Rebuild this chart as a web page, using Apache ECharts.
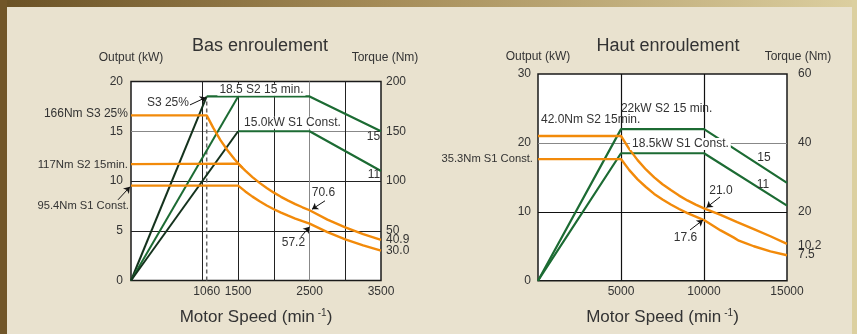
<!DOCTYPE html>
<html><head><meta charset="utf-8">
<script src="https://cdn.jsdelivr.net/npm/echarts@6/dist/echarts.min.js"></script>
<style>html,body{margin:0;padding:0;background:#e9e2cf}#c{width:857px;height:334px}</style>
</head><body><div id="c"></div>
<script>
// ---------- Bas enroulement (left) ----------
const basSpeedTicks = ['1060', '1500', '2500', '3500'];
const basOutputTicks = ['0', '5', '10', '15', '20'];
const basTorqueTicks = ['50', '100', '150', '200', '40.9'];
const basTorqueEndTick = '30.0';
const basS3Rise = [[0, 0], [1060, 18.5]];
const basS2Rise = [[0, 0], [1500, 18.5]];
const basS2Output = [[1060, 18.5], [2500, 18.5], [3500, 15]];
const basS1Rise = [[0, 0], [1500, 15]];
const basS1Output = [[1500, 15], [2500, 15], [3500, 11]];
const basS3Marker = [[1060, 0], [1060, 18.3]];
const basS3Torque = [[0, 166], [1060, 166], [1150, 153.6], [1250, 141.3], [1350, 130.9], [1450, 121.8], [1500, 117.8], [1560, 113.3]];
const basS2Torque = [[0, 117], [1500, 117.5], [1600, 110.4], [1700, 103.9], [1800, 98.1], [1900, 93.0], [2000, 88.3], [2100, 84.1], [2200, 80.3], [2300, 76.8], [2400, 73.6], [2500, 70.6], [2750, 61.2], [3000, 53.3], [3250, 46.6], [3500, 40.9]];
const basS1Torque = [[0, 95.4], [1500, 95.4], [1600, 89.5], [1700, 84.3], [1800, 79.6], [1900, 75.4], [2000, 71.6], [2100, 68.2], [2200, 65.1], [2300, 62.3], [2400, 59.7], [2500, 57.2], [2750, 48.6], [3000, 41.4], [3250, 35.3], [3500, 30.0]];
const basNotes = ['S3 25%', '18.5 S2 15 min.', '15.0kW S1 Const.', '15', '11', '70.6', '57.2', '166Nm S3 25%', '117Nm S2 15min.', '95.4Nm S1 Const.'];

// ---------- Haut enroulement (right) ----------
const hautSpeedTicks = ['5000', '10000', '15000'];
const hautOutputTicks = ['0', '10', '20', '30'];
const hautTorqueTicks = ['20', '40', '60', '10.2'];
const hautTorqueEndTick = '7.5';
const hautS2Output = [[0, 0], [5000, 22], [10000, 22], [15000, 14.2]];
const hautS1Output = [[0, 0], [5000, 18.5], [10000, 18.5], [15000, 10.9]];
const hautS2Torque = [[0, 42], [5000, 42], [5500, 38.2], [6000, 35.0], [6500, 32.3], [7000, 30.0], [7500, 28.0], [8000, 26.3], [8500, 24.7], [9000, 23.3], [9500, 22.1], [10000, 21.0], [11000, 19.1], [12000, 17.0], [13000, 15.0], [14000, 12.9], [15000, 10.7]];
const hautS1Torque = [[0, 35.3], [5000, 35.3], [5500, 32.1], [6000, 29.4], [6500, 27.2], [7000, 25.2], [7500, 23.6], [8000, 22.1], [8500, 20.8], [9000, 19.6], [9500, 18.6], [10000, 17.6], [11000, 14.6], [11500, 13.3], [11800, 12.5], [12100, 11.6], [12500, 10.9], [13000, 10.0], [14000, 8.5], [15000, 7.4]];
const hautNotes = ['22kW S2 15 min.', '42.0Nm S2 15min.', '18.5kW S1 Const.', '35.3Nm S1 Const.', '15', '11', '21.0', '17.6'];

// ---------- styling / building ----------
const FONT = '"Liberation Sans", Arial, Helvetica, sans-serif';
const TXT = '#333';
const ORANGE = '#f28a0a';
const GREEN = '#1c6b33';
const DARK = '#14321d';
const nums = a => a.map(Number);
const fmtFrom = a => (v => { const f = a.find(s => Math.abs(Number(s) - v) < 1e-9); return f === undefined ? '' : f; });

function line(data, color, width, xi, yi, extra) {
  return Object.assign({ type: 'line', data, xAxisIndex: xi, yAxisIndex: yi, symbol: 'none', silent: true,
    lineStyle: { color, width }, animation: false }, extra || {});
}
function note(text, x, y, align, bg, size, pad) {
  const l = { formatter: text, align: align || 'center', backgroundColor: bg ? '#fff' : 'transparent', padding: pad || (bg ? [0, 2] : 0) };
  if (size) l.fontSize = size;
  return { value: [x, y], label: l };
}
function notes(xi, yi, data, size) {
  return { type: 'scatter', xAxisIndex: xi, yAxisIndex: yi, symbolSize: 0.1, clip: false, silent: true, z: 8,
    itemStyle: { color: 'rgba(0,0,0,0)', opacity: 1 },
    label: { show: true, position: [0, 0], verticalAlign: 'middle', fontSize: size || 12, color: TXT, fontFamily: FONT, opacity: 1 },
    labelLayout: { hideOverlap: false },
    data };
}
function arrows(xi, yi, data) {
  return { type: 'lines', coordinateSystem: 'cartesian2d', xAxisIndex: xi, yAxisIndex: yi, clip: false, silent: true, z: 9,
    symbol: ['none', 'arrow'], symbolSize: 6, lineStyle: { color: '#111', width: 1, opacity: 1, curveness: 0 },
    data: data.map(c => ({ coords: c })) };
}
const speedName = 'Motor Speed (min{sup|-1})';
const nameStyleX = { fontSize: 17, color: TXT, fontFamily: FONT, rich: { sup: { fontSize: 10, verticalAlign: 'top', color: TXT, fontFamily: FONT, padding: [0, 0, 0, 3] } } };
const lbl = { fontSize: 12, color: TXT, fontFamily: FONT };

const chart = echarts.init(document.getElementById('c'), null, { renderer: 'canvas' });
chart.setOption({
  backgroundColor: '#e9e2cf',
  animation: false,
  textStyle: { fontFamily: FONT },
  title: [
    { text: 'Bas enroulement', left: 255, top: 32, textAlign: 'center', textStyle: { fontSize: 18, fontWeight: 'normal', color: TXT, fontFamily: FONT } },
    { text: 'Haut enroulement', left: 663, top: 32, textAlign: 'center', textStyle: { fontSize: 18, fontWeight: 'normal', color: TXT, fontFamily: FONT } }
  ],
  graphic: [
    { type: 'rect', shape: { x: 0, y: 0, width: 857, height: 7 }, style: { fill: { type: 'linear', x: 0, y: 0, x2: 1, y2: 0, colorStops: [{ offset: 0, color: '#6a5125' }, { offset: 0.45, color: '#a58c58' }, { offset: 1, color: '#dccfa0' }] } } },
    { type: 'rect', shape: { x: 0, y: 0, width: 7, height: 334 }, style: { fill: '#715629' } },
    { type: 'rect', shape: { x: 852, y: 0, width: 5, height: 334 }, style: { fill: '#dcd0a0' } }
  ],
  grid: [
    { left: 131, top: 81.5, width: 250, height: 199, show: true, backgroundColor: '#fff', borderColor: '#1a1a1a', borderWidth: 1.5, outerBoundsMode: 'none', containLabel: false },
    { left: 538, top: 74, width: 249, height: 206.7, show: true, backgroundColor: '#fff', borderColor: '#1a1a1a', borderWidth: 1.5, outerBoundsMode: 'none', containLabel: false }
  ],
  xAxis: [
    { gridIndex: 0, type: 'value', min: 0, max: 3500, interval: 500,
      axisLine: { show: false }, axisTick: { show: false, customValues: [1000, 1500, 2000, 2500, 3000] },
      axisLabel: Object.assign({ customValues: nums(basSpeedTicks), formatter: fmtFrom(basSpeedTicks), margin: 5, hideOverlap: false }, lbl),
      splitLine: { show: true, lineStyle: { color: ['#222', '#222', '#222', '#888', '#222'], width: 1 } },
      name: speedName, nameLocation: 'middle', nameGap: 28, nameTextStyle: nameStyleX },
    { gridIndex: 1, type: 'value', min: 0, max: 15000, interval: 5000,
      axisLine: { show: false }, axisTick: { show: false, customValues: [5000, 10000] },
      axisLabel: Object.assign({ customValues: nums(hautSpeedTicks), formatter: fmtFrom(hautSpeedTicks), margin: 5, hideOverlap: false }, lbl),
      splitLine: { show: true, lineStyle: { color: ['#111', '#111'], width: 1.2 } },
      name: speedName, nameLocation: 'middle', nameGap: 28, nameTextStyle: nameStyleX }
  ],
  yAxis: [
    { gridIndex: 0, type: 'value', position: 'left', min: 0, max: 20, interval: 5,
      axisLine: { show: false }, axisTick: { show: false, customValues: [5, 10, 15] },
      axisLabel: Object.assign({ customValues: nums(basOutputTicks), formatter: fmtFrom(basOutputTicks), margin: 8, hideOverlap: false }, lbl),
      splitLine: { show: true, lineStyle: { color: ['#222', '#222', '#888'], width: 1 } },
      name: 'Output (kW)', nameLocation: 'end', nameGap: 18, nameTextStyle: lbl },
    { gridIndex: 0, type: 'value', position: 'right', min: 0, max: 200, interval: 50,
      axisLine: { show: false }, axisTick: { show: false }, splitLine: { show: false },
      axisLabel: Object.assign({ customValues: nums(basTorqueTicks), formatter: fmtFrom(basTorqueTicks), margin: 5, hideOverlap: false }, lbl),
      name: 'Torque (Nm)', nameLocation: 'end', nameGap: 18, nameTextStyle: Object.assign({ padding: [0, 0, 0, 8] }, lbl) },
    { gridIndex: 1, type: 'value', position: 'left', min: 0, max: 30, interval: 10,
      axisLine: { show: false }, axisTick: { show: false, customValues: [10, 20] },
      axisLabel: Object.assign({ customValues: nums(hautOutputTicks), formatter: fmtFrom(hautOutputTicks), margin: 7, hideOverlap: false }, lbl),
      splitLine: { show: true, lineStyle: { color: ['#111', '#888'], width: 1.2 } },
      name: 'Output (kW)', nameLocation: 'end', nameGap: 11, nameTextStyle: lbl },
    { gridIndex: 1, type: 'value', position: 'right', min: 0, max: 60, interval: 20,
      axisLine: { show: false }, axisTick: { show: false }, splitLine: { show: false },
      axisLabel: Object.assign({ customValues: nums(hautTorqueTicks), formatter: fmtFrom(hautTorqueTicks), margin: 11, hideOverlap: false }, lbl),
      name: 'Torque (Nm)', nameLocation: 'end', nameGap: 11, nameTextStyle: Object.assign({ padding: [0, 0, 0, 22] }, lbl) }
  ],
  series: [
    line(basS3Marker, '#666', 1.5, 0, 0, { lineStyle: { color: '#666', width: 1.5, type: [4, 3] } }),
    line(basS3Rise, DARK, 2, 0, 0),
    line(basS2Rise, GREEN, 2, 0, 0),
    line(basS2Output, GREEN, 2.2, 0, 0),
    line(basS1Rise, DARK, 2, 0, 0),
    line(basS1Output, GREEN, 2.2, 0, 0),
    line(basS3Torque, ORANGE, 2.4, 0, 1),
    line(basS2Torque, ORANGE, 2.4, 0, 1),
    line(basS1Torque, ORANGE, 2.4, 0, 1),
    line(hautS2Output, GREEN, 2.2, 1, 2),
    line(hautS1Output, GREEN, 2.2, 1, 2),
    line(hautS2Torque, ORANGE, 2.4, 1, 3),
    line(hautS1Torque, ORANGE, 2.4, 1, 3),
    notes(0, 0, [
      note(basNotes[0], 812, 17.86, 'right'),
      note(basNotes[1], 1827, 19.17, 'center', true),
      note(basNotes[2], 2261, 15.85, 'center', true),
      note(basNotes[3], 3395, 14.44),
      note(basNotes[4], 3402, 10.62),
      note(basNotes[5], 2695, 8.81),
      note(basNotes[6], 2275, 3.79),
      note(basNotes[7], -42, 16.75, 'right'),
      note(basNotes[8], -42, 11.63, 'right', false, 11.4),
      note(basNotes[9], -28, 7.54, 'right', false, 11.2)
    ], 12),
    // extra right-axis tick text placed on the torque scale, just outside the plot
    notes(0, 1, [note(basTorqueEndTick, 3570, Number(basTorqueEndTick), 'left')], 12),
    arrows(0, 0, [
      [[826, 17.65], [1050, 18.4]],
      [[2716, 8.01], [2534, 7.16]],
      [[2380, 4.39], [2499, 5.40]],
      [[-182, 8.11], [-14, 9.42]]
    ]),
    notes(1, 2, [
      note(hautNotes[0], 5000, 24.92, 'left'),
      note(hautNotes[1], 181, 23.32, 'left'),
      note(hautNotes[2], 8584, 19.84, 'center', true),
      note(hautNotes[3], -301, 17.66, 'right', false, 11.2),
      note(hautNotes[4], 13614, 17.81),
      note(hautNotes[5], 13554, 13.89),
      note(hautNotes[6], 11024, 13.02),
      note(hautNotes[7], 8886, 6.2)
    ], 12),
    notes(1, 3, [note(hautTorqueEndTick, 15663, Number(hautTorqueEndTick), 'left', false, 12, [7, 0, 0, 0])], 12),
    arrows(1, 2, [
      [[10964, 12.15], [10150, 10.62]],
      [[9157, 7.36], [9940, 8.81]]
    ])
  ]
});
</script></body></html>
